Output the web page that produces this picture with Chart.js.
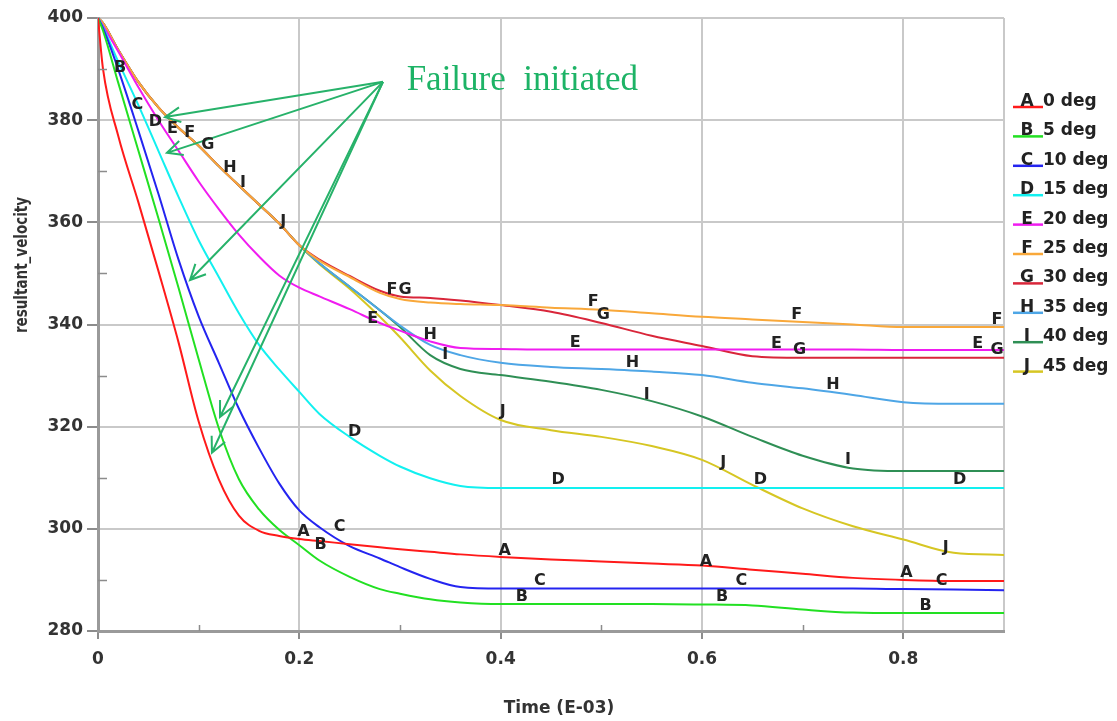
<!DOCTYPE html>
<html>
<head>
<meta charset="utf-8">
<title>resultant_velocity</title>
<script src="https://cdn.jsdelivr.net/npm/chart.js@4.4.1/dist/chart.umd.min.js"></script>
<style>
  html, body { margin: 0; padding: 0; background: #fff; }
  #wrap { width: 1117px; height: 721px; }
</style>
</head>
<body>
<div id="wrap"><canvas id="velocityChart" width="1117" height="721"></canvas></div>
<script>
// time axis (E-03) shared by every curve
var time = [0, 0.005, 0.02, 0.04, 0.06, 0.08, 0.1, 0.12, 0.14, 0.16, 0.18, 0.2, 0.22, 0.25, 0.28, 0.3,
  0.33, 0.36, 0.4, 0.45, 0.5, 0.55, 0.6, 0.65, 0.7, 0.75, 0.8, 0.85, 0.9];

var velA = [400, 390, 377, 364, 350.5, 336.5, 321, 309.7, 302.6, 299.6, 298.6, 298, 297.6, 297, 296.4, 296,
  295.5, 295, 294.5, 294, 293.6, 293.2, 292.8, 292, 291.2, 290.4, 290, 289.8, 289.8];
var velB = [400, 397.5, 387.4, 374.1, 360.8, 347.2, 333.2, 319.7, 309.7, 303.8, 299.8, 296.8, 293.8, 290.6, 288.2, 287.3,
  286.2, 285.6, 285.3, 285.3, 285.3, 285.3, 285.2, 285, 284.2, 283.6, 283.5, 283.5, 283.5];
var velC = [400, 398, 390, 378, 365.6, 352.7, 341.6, 332.5, 323.5, 315.8, 308.9, 303.6, 300.3, 296.6, 294.2, 292.5,
  290.2, 288.6, 288.3, 288.3, 288.3, 288.3, 288.3, 288.3, 288.3, 288.3, 288.2, 288.1, 288];
var velD = [400, 398.2, 391.5, 383, 374, 365, 356.5, 349.3, 342.2, 336, 331.2, 326.8, 322.5, 318, 314.3, 312.2,
  309.9, 308.4, 308, 308, 308, 308, 308, 308, 308, 308, 308, 308, 308];
var velE = [400, 398.5, 393.5, 386.5, 380, 374, 368, 362.6, 357.6, 353.3, 349.6, 347.2, 345.5, 343, 340.3, 338.8,
  336.7, 335.4, 335.2, 335.1, 335.1, 335.1, 335.1, 335.1, 335.1, 335.1, 335, 335, 335];
var velF = [400, 399, 393.8, 387.5, 382.5, 378.5, 375, 371, 367.2, 363.5, 359.8, 355.5, 352.5, 349.3, 346.2, 345,
  344.3, 344, 343.8, 343.3, 342.9, 342.2, 341.5, 341, 340.5, 340, 339.5, 339.5, 339.5];
var velG = [400, 399, 393.8, 387.5, 382.5, 378.5, 375, 371, 367.2, 363.5, 359.8, 355.5, 352.7, 349.5, 346.6, 345.5,
  345.2, 344.7, 343.8, 342.5, 340.3, 337.8, 335.8, 333.8, 333.5, 333.5, 333.5, 333.5, 333.5];
var velH = [400, 399, 393.8, 387.5, 382.5, 378.5, 375, 371, 367.2, 363.5, 359.8, 355.5, 352, 347.4, 342.8, 339.8,
  336, 334, 332.5, 331.7, 331.3, 330.8, 330.1, 328.6, 327.5, 326.2, 324.8, 324.5, 324.5];
var velI = [400, 399, 393.8, 387.5, 382.5, 378.5, 375, 371, 367.2, 363.5, 359.8, 355.5, 352, 347.4, 342.8, 339.5,
  334, 331.3, 330.1, 328.8, 327.2, 325, 322, 318, 314.3, 311.8, 311.3, 311.3, 311.3];
var velJ = [400, 399, 393.8, 387.5, 382.5, 378.5, 375, 371, 367.2, 363.5, 359.8, 355.5, 351.8, 347, 341.5, 337.5,
  331, 326, 321.3, 319.3, 318, 316.2, 313.5, 308.6, 304, 300.5, 297.9, 295.3, 294.9];

var seriesLetters = ['A', 'B', 'C', 'D', 'E', 'F', 'G', 'H', 'I', 'J'];
var seriesNames = ['0 deg', '5 deg', '10 deg', '15 deg', '20 deg', '25 deg', '30 deg', '35 deg', '40 deg', '45 deg'];
var seriesValues = [velA, velB, velC, velD, velE, velF, velG, velH, velI, velJ];
var seriesColors = ['#ff1a1a', '#22e022', '#2424f0', '#12f0f0', '#f01cf0', '#f9a83a', '#d9263a', '#4ea6e6', '#2f8f55', '#d6c623'];

// letter tags written on the curves (time, velocity)
var curveTags = [
  [[0.204, 299.4], [0.404, 295.7], [0.604, 293.5], [0.803, 291.4]],
  [[0.022, 390.2], [0.221, 296.9], [0.421, 286.7], [0.62, 286.7], [0.822, 285]],
  [[0.039, 383], [0.24, 300.4], [0.439, 289.8], [0.639, 289.8], [0.838, 289.8]],
  [[0.057, 379.6], [0.255, 319], [0.457, 309.6], [0.658, 309.6], [0.856, 309.6]],
  [[0.074, 378.3], [0.273, 341.1], [0.474, 336.4], [0.674, 336.2], [0.874, 336.2]],
  [[0.091, 377.5], [0.292, 346.8], [0.492, 344.4], [0.694, 341.9], [0.893, 341]],
  [[0.109, 375.1], [0.305, 346.8], [0.502, 341.9], [0.697, 335], [0.893, 335]],
  [[0.131, 370.6], [0.33, 338], [0.531, 332.4], [0.73, 328.2]],
  [[0.144, 367.7], [0.345, 334], [0.545, 326.2], [0.745, 313.5]],
  [[0.184, 360.1], [0.402, 322.9], [0.621, 312.9], [0.842, 296.3]]
];

// "Failure initiated" note and its arrows (time, velocity)
var noteText = 'Failure  initiated';
var notePos = [0.3066, 386];
var arrowFrom = [0.2831, 387.5];
var arrowTips = [[0.0666, 380.6], [0.0685, 373.6], [0.0914, 348.7], [0.1212, 321.9], [0.1132, 314.9]];

var tickFont = { family: 'DejaVu Sans', size: 17, weight: 'bold' };

function buildDatasets() {
  var sets = [];
  for (var i = 0; i < seriesValues.length; i++) {
    var pts = [];
    for (var k = 0; k < time.length; k++) {
      pts.push({ x: time[k], y: seriesValues[i][k] });
    }
    sets.push({
      label: seriesLetters[i] + ' ' + seriesNames[i],
      data: pts,
      borderColor: seriesColors[i],
      backgroundColor: seriesColors[i],
      borderWidth: 2,
      pointRadius: 0,
      cubicInterpolationMode: 'monotone',
      fill: false
    });
  }
  return sets;
}

function drawArrow(ctx, x0, y0, x1, y1) {
  var ang = Math.atan2(y1 - y0, x1 - x0);
  var head = 17;
  ctx.beginPath();
  ctx.moveTo(x0, y0);
  ctx.lineTo(x1, y1);
  ctx.moveTo(x1 - head * Math.cos(ang - 0.45), y1 - head * Math.sin(ang - 0.45));
  ctx.lineTo(x1, y1);
  ctx.lineTo(x1 - head * Math.cos(ang + 0.45), y1 - head * Math.sin(ang + 0.45));
  ctx.stroke();
}

var overlayPlugin = {
  id: 'overlay',
  afterDatasetsDraw: function (chart) {
    "use strict";
    var ctx = chart.ctx;
    var xs = chart.scales.x;
    var ys = chart.scales.y;
    var area = chart.chartArea;
    var i, j;

    ctx.save();

    // short inner ticks for the minor steps
    ctx.strokeStyle = '#8c8c8c';
    ctx.lineWidth = 1.5;
    ctx.beginPath();
    [0.1, 0.3, 0.5, 0.7].forEach(function (v) {
      var px = Math.round(xs.getPixelForValue(v)) + 0.5;
      ctx.moveTo(px, area.bottom);
      ctx.lineTo(px, area.bottom - 6);
    });
    for (var v = 290; v < 400; v += 20) {
      var py = Math.round(ys.getPixelForValue(v)) + 0.5;
      ctx.moveTo(area.left, py);
      ctx.lineTo(area.left + 9, py);
    }
    ctx.stroke();

    // arrows and note
    ctx.strokeStyle = '#27b26a';
    ctx.lineWidth = 2;
    var fx = xs.getPixelForValue(arrowFrom[0]);
    var fy = ys.getPixelForValue(arrowFrom[1]);
    for (i = 0; i < arrowTips.length; i++) {
      drawArrow(ctx, fx, fy, xs.getPixelForValue(arrowTips[i][0]), ys.getPixelForValue(arrowTips[i][1]));
    }
    ctx.fillStyle = '#1db366';
    ctx.font = '35px "Liberation Serif"';
    ctx.textAlign = 'left';
    ctx.textBaseline = 'alphabetic';
    ctx.fillText(noteText, xs.getPixelForValue(notePos[0]), ys.getPixelForValue(notePos[1]));

    // curve letters
    ctx.fillStyle = '#222';
    ctx.font = 'bold 16px "DejaVu Sans"';
    ctx.textAlign = 'center';
    ctx.textBaseline = 'middle';
    for (i = 0; i < curveTags.length; i++) {
      for (j = 0; j < curveTags[i].length; j++) {
        ctx.fillText(seriesLetters[i], xs.getPixelForValue(curveTags[i][j][0]), ys.getPixelForValue(curveTags[i][j][1]));
      }
    }

    // legend on the right
    var lx = area.right + 9;
    for (i = 0; i < seriesLetters.length; i++) {
      var base = 106 + i * 29.4;
      ctx.strokeStyle = seriesColors[i];
      ctx.lineWidth = 2.5;
      ctx.beginPath();
      ctx.moveTo(lx, base + 1);
      ctx.lineTo(lx + 30, base + 1);
      ctx.stroke();
      ctx.fillStyle = '#222';
      ctx.font = 'bold 17px "DejaVu Sans"';
      ctx.textBaseline = 'alphabetic';
      ctx.textAlign = 'center';
      ctx.fillText(seriesLetters[i], lx + 14, base);
      ctx.textAlign = 'left';
      ctx.fillText(seriesNames[i], lx + 30, base);
    }

    // axis titles
    ctx.fillStyle = '#333';
    ctx.font = 'bold 17px "DejaVu Sans"';
    ctx.textAlign = 'center';
    ctx.textBaseline = 'middle';
    ctx.fillText('Time (E-03)', 559, 709);

    ctx.translate(23, 265);
    ctx.scale(1.25, 1);
    ctx.rotate(-Math.PI / 2);
    ctx.font = 'bold 13.5px "DejaVu Sans"';
    ctx.fillText('resultant_velocity', 0, 0);

    ctx.restore();
  }
};

function isMajorX(value) {
  return Math.round(value * 10) % 2 === 0;
}

var velocityChart = new Chart(document.getElementById('velocityChart').getContext('2d'), {
  type: 'line',
  data: { datasets: buildDatasets() },
  options: {
    responsive: false,
    animation: false,
    layout: { padding: { top: 18, right: 113, bottom: 0, left: 0 } },
    plugins: {
      legend: { display: false },
      tooltip: { enabled: false },
      title: { display: false }
    },
    scales: {
      x: {
        type: 'linear',
        min: 0,
        max: 0.9,
        afterFit: function (scale) { scale.height = 90; },
        ticks: {
          stepSize: 0.1,
          autoSkip: false,
          maxRotation: 0,
          padding: 10,
          color: '#333',
          font: tickFont,
          callback: function (value) {
            var k = Math.round(value * 10);
            if (k % 2 !== 0) { return ''; }
            return k === 0 ? '0' : (k / 10).toFixed(1);
          }
        },
        grid: {
          lineWidth: 2,
          tickLength: 8,
          color: function (c) {
            var k = Math.round(c.tick.value * 10);
            return (k % 2 === 0 || k === 9) ? '#c9c9c9' : 'rgba(0,0,0,0)';
          },
          tickColor: function (c) {
            return isMajorX(c.tick.value) ? '#8c8c8c' : 'rgba(0,0,0,0)';
          }
        },
        border: { display: true, color: '#9a9a9a', width: 3 }
      },
      y: {
        type: 'linear',
        min: 280,
        max: 400,
        afterFit: function (scale) { scale.width = 98; },
        ticks: {
          stepSize: 10,
          autoSkip: false,
          padding: 4,
          color: '#333',
          font: tickFont,
          callback: function (value) {
            return value % 20 === 0 ? String(value) : '';
          }
        },
        grid: {
          lineWidth: 2,
          tickLength: 11,
          color: function (c) {
            return c.tick.value % 20 === 0 ? '#c9c9c9' : 'rgba(0,0,0,0)';
          },
          tickColor: function (c) {
            return c.tick.value % 20 === 0 ? '#8c8c8c' : 'rgba(0,0,0,0)';
          }
        },
        border: { display: true, color: '#9a9a9a', width: 3 }
      }
    }
  },
  plugins: [overlayPlugin]
});
</script>
</body>
</html>
